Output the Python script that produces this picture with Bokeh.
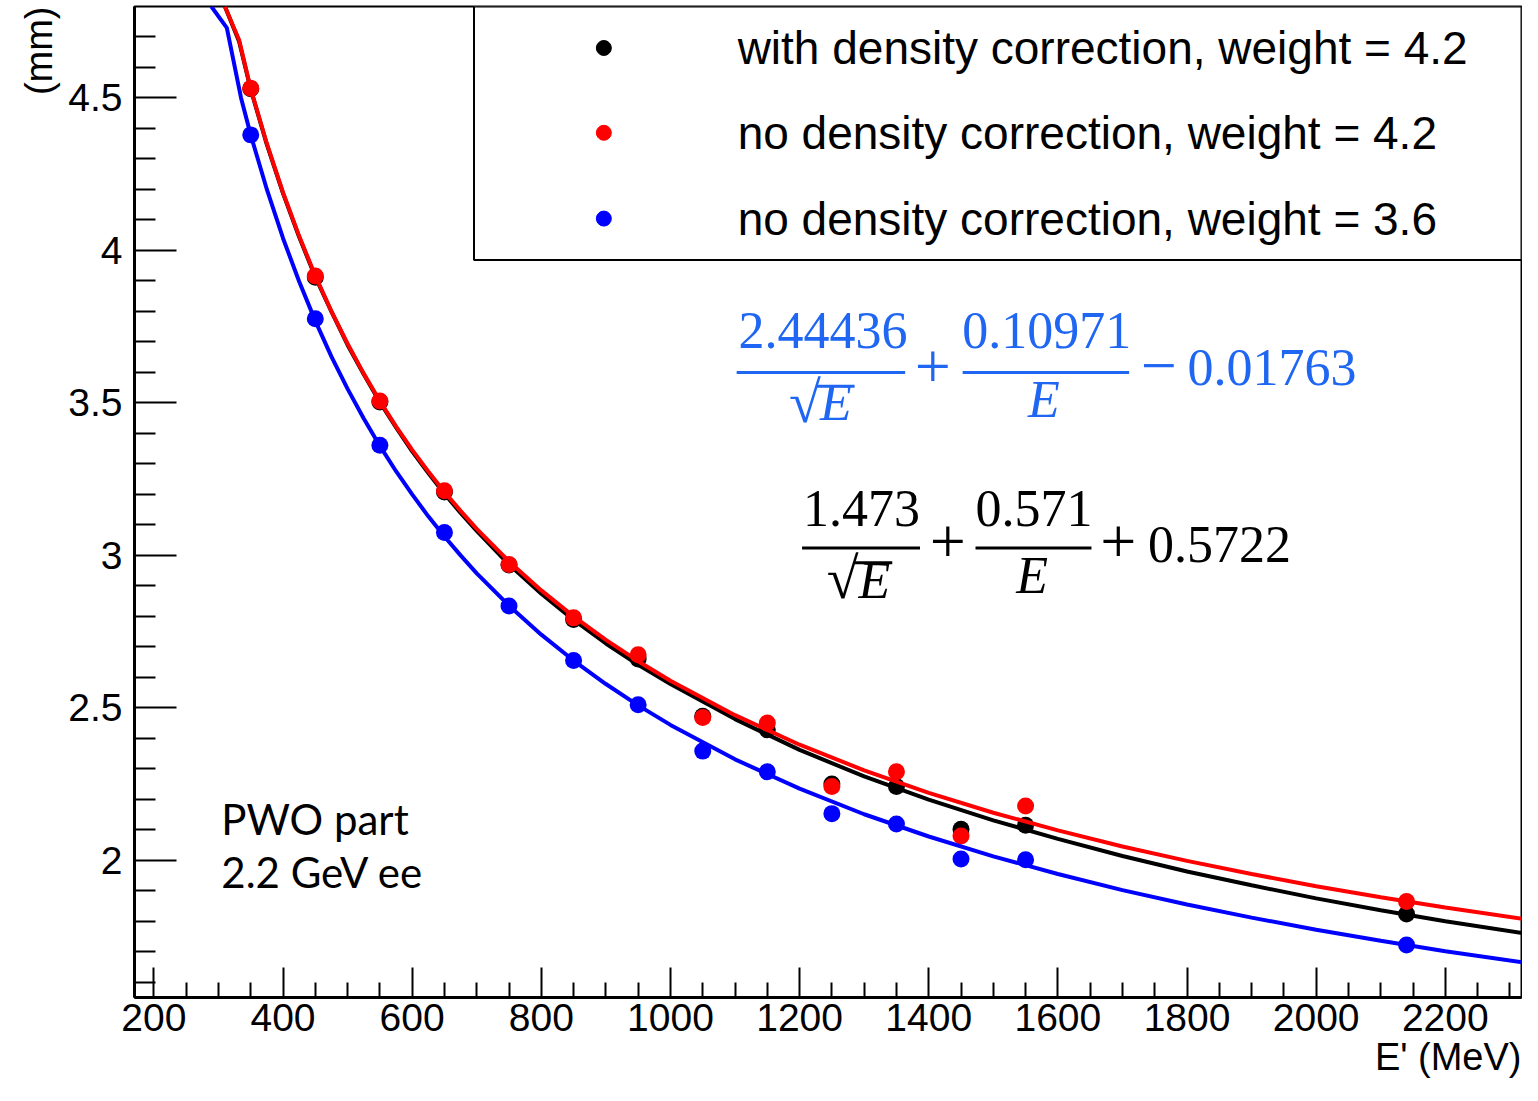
import math
from bokeh.plotting import figure
from bokeh.models import Range1d, FixedTicker, Label, Title
from bokeh.embed import file_html
from bokeh.resources import INLINE

# ---------------- data ----------------
energy_mev = [350, 450, 550, 650, 750, 850, 950, 1050, 1150, 1250, 1350, 1450, 1550, 2140]
with_dens_w42 = [4.530, 3.912, 3.503, 3.208, 2.968, 2.790, 2.660, 2.472, 2.428, 2.250, 2.242, 2.102, 2.115, 1.824]
no_dens_w42 = [4.532, 3.916, 3.506, 3.212, 2.970, 2.795, 2.674, 2.468, 2.450, 2.242, 2.290, 2.080, 2.178, 1.865]
no_dens_w36 = [4.379, 3.776, 3.361, 3.075, 2.834, 2.655, 2.510, 2.358, 2.290, 2.153, 2.119, 2.004, 2.002, 1.722]

fit_x_42 = [310, 332, 350, 375, 400, 425, 450, 475, 500, 525, 550, 575, 600, 625, 650, 675, 700, 750,
            800, 850, 900, 950, 1000, 1100, 1200, 1300, 1400, 1500, 1600, 1700, 1800, 1900, 2000,
            2100, 2200, 2320]
fit_with_dens_w42 = [4.80, 4.685, 4.528, 4.347, 4.187, 4.044, 3.913, 3.799, 3.690, 3.594, 3.502, 3.420,
                     3.341, 3.270, 3.202, 3.139, 3.080, 2.970, 2.874, 2.788, 2.711, 2.641, 2.578, 2.463,
                     2.362, 2.275, 2.199, 2.131, 2.070, 2.014, 1.963, 1.918, 1.875, 1.836, 1.800, 1.761]
fit_no_dens_w42 = [4.80, 4.69, 4.530, 4.350, 4.190, 4.047, 3.917, 3.800, 3.694, 3.596, 3.506, 3.423,
                   3.346, 3.275, 3.208, 3.146, 3.087, 2.980, 2.885, 2.800, 2.723, 2.653, 2.589, 2.476,
                   2.379, 2.295, 2.221, 2.156, 2.098, 2.045, 1.998, 1.955, 1.915, 1.879, 1.845, 1.808]
fit_x_36 = [289, 313, 335, 350, 375, 400, 425, 450, 475, 500, 525, 550, 575, 600, 625, 650, 675, 700,
            750, 800, 850, 900, 950, 1000, 1100, 1200, 1300, 1400, 1500, 1600, 1700, 1800, 1900, 2000,
            2100, 2200, 2320]
fit_no_dens_w36 = [4.80, 4.73, 4.50, 4.379, 4.200, 4.040, 3.898, 3.769, 3.652, 3.546, 3.449, 3.359,
                   3.276, 3.200, 3.128, 3.062, 3.000, 2.941, 2.835, 2.740, 2.655, 2.578, 2.508, 2.444,
                   2.331, 2.235, 2.151, 2.078, 2.013, 1.955, 1.902, 1.855, 1.812, 1.772, 1.736, 1.702, 1.665]

x_major_ticks = [200, 400, 600, 800, 1000, 1200, 1400, 1600, 1800, 2000, 2200]
x_minor_ticks = [250, 300, 350, 450, 500, 550, 650, 700, 750, 850, 900, 950, 1050, 1100, 1150,
                 1250, 1300, 1350, 1450, 1500, 1550, 1650, 1700, 1750, 1850, 1900, 1950,
                 2050, 2100, 2150, 2250, 2300]
y_major_ticks = [2.0, 2.5, 3.0, 3.5, 4.0, 4.5]
y_minor_ticks = [1.6, 1.7, 1.8, 1.9, 2.1, 2.2, 2.3, 2.4, 2.6, 2.7, 2.8, 2.9, 3.1, 3.2, 3.3, 3.4,
                 3.6, 3.7, 3.8, 3.9, 4.1, 4.2, 4.3, 4.4, 4.6, 4.7]

legend_labels = ["with density correction, weight = 4.2",
                 "no density correction, weight = 4.2",
                 "no density correction, weight = 3.6"]
series_colors = ["black", "#ff0000", "#0000ff"]
formula_blue = "#1f66f2"

X_MIN, X_MAX = 170, 2318
Y_MIN, Y_MAX = 1.55, 4.80


# helpers: reference-picture pixel -> data coordinates (for annotation placement)
def X(px):
    return 200 + (px - 154) / 0.6515


def Y(py):
    return 2 + (875.7 - py) / 309.2


p = figure(width=1522, height=1085, x_range=Range1d(X_MIN, X_MAX), y_range=Range1d(Y_MIN, Y_MAX),
           output_backend="svg", toolbar_location=None,
           min_border_left=134, min_border_right=1, min_border_top=6, min_border_bottom=88)
p.grid.visible = False
p.outline_line_color = "black"
p.outline_line_width = 2
p.background_fill_color = "white"
p.border_fill_color = "white"

xa = p.xaxis[0]
xa.ticker = FixedTicker(ticks=x_major_ticks, minor_ticks=x_minor_ticks)
ya = p.yaxis[0]
ya.ticker = FixedTicker(ticks=y_major_ticks, minor_ticks=y_minor_ticks)
for ax in (xa, ya):
    ax.major_tick_out = 0
    ax.minor_tick_out = 0
    ax.axis_line_width = 3
    ax.major_tick_line_width = 2
    ax.minor_tick_line_width = 2
    ax.major_label_text_font = "Liberation Sans"
    ax.major_label_text_font_size = "39px"
    ax.major_label_text_color = "black"
xa.major_tick_in = 30
xa.minor_tick_in = 15
xa.major_label_standoff = 6
ya.major_tick_in = 42
ya.minor_tick_in = 21
ya.major_label_standoff = 12
ya.major_label_orientation = "horizontal"

# axis titles (placed in the side panels, aligned to the far end like the reference)
p.add_layout(Title(text="E' (MeV)", align="right", text_font="Liberation Sans",
                   text_font_size="38px", text_font_style="normal", text_color="black",
                   standoff=0), "below")
p.add_layout(Title(text="(mm)", align="right", text_font="Liberation Sans",
                   text_font_size="38px", text_font_style="normal", text_color="black",
                   standoff=12), "left")

# fitted curves and points, per series
fits = [(fit_x_42, fit_with_dens_w42), (fit_x_42, fit_no_dens_w42), (fit_x_36, fit_no_dens_w36)]
points = [with_dens_w42, no_dens_w42, no_dens_w36]
for (fx, fy), py_, col in zip(fits, points, series_colors):
    p.line(fx, fy, line_color=col, line_width=4)
    p.scatter(energy_mev, py_, size=17, fill_color=col, line_color=col, line_width=0)

# legend box
p.quad(left=[X(477)], right=[X_MAX], bottom=[Y(267)], top=[Y_MAX],
       fill_color="white", line_color="black", line_width=2)
leg_y = [Y(52), Y(138), Y(225)]
p.scatter([X(608)] * 3, leg_y, size=15, fill_color=series_colors, line_color=series_colors)
for lab_text, ly in zip(legend_labels, leg_y):
    p.add_layout(Label(x=X(743), y=ly, text=lab_text, text_font="Liberation Sans",
                       text_font_size="46px", text_baseline="middle", text_align="left",
                       text_color="black"))


def lab(text, px, py, size="52px", color="black", align="center", style="normal",
        font="Liberation Serif"):
    p.add_layout(Label(x=X(px), y=Y(py), text=text, text_font=font, text_font_size=size,
                       text_color=color, text_align=align, text_baseline="middle",
                       text_font_style=style))


# blue formula
lab("2.44436", 829, 338, color=formula_blue)
lab("√", 811, 411, size="58px", color=formula_blue)
lab("E", 842, 412, color=formula_blue, style="italic")
lab("+", 940, 375, size="64px", color=formula_blue)
lab("0.10971", 1055, 338, color=formula_blue)
lab("E", 1052, 408, color=formula_blue, style="italic")
lab("−", 1168, 374, size="64px", color=formula_blue)
lab("0.01763", 1197, 376, color=formula_blue, align="left")
# black formula
lab("1.473", 868, 519)
lab("√", 849, 590, size="58px")
lab("E", 881, 592, style="italic")
lab("+", 955, 553, size="64px")
lab("0.571", 1042, 519)
lab("E", 1040, 587, style="italic")
lab("+", 1127, 553, size="64px")
lab("0.5722", 1157, 555, align="left")

# fraction bars and radical overlines
p.segment(x0=[X(742), X(970), X(823)], y0=[Y(381), Y(381), Y(395)],
          x1=[X(912), X(1138), X(861)], y1=[Y(381), Y(381), Y(395)],
          line_color=formula_blue, line_width=3)
p.segment(x0=[X(808), X(983), X(861)], y0=[Y(559), Y(559), Y(574)],
          x1=[X(927), X(1100), X(899)], y1=[Y(559), Y(559), Y(574)],
          line_color="black", line_width=3)

# PWO notes
lab("PWO part", 222, 834, size="42px", font="Lato", align="left")
lab("2.2 GeV ee", 222, 888, size="42px", font="Lato", align="left")

open("out.html", "w").write(file_html(p, INLINE))
